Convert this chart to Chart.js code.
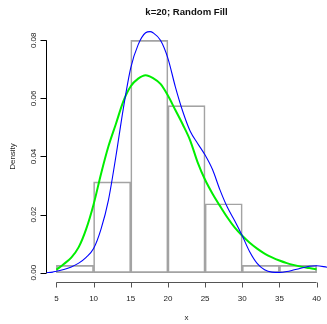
<!DOCTYPE html>
<html>
<head>
<meta charset="utf-8">
<title>k=20; Random Fill</title>
<script src="https://cdn.jsdelivr.net/npm/chart.js@4.4.1/dist/chart.umd.min.js"></script>
<style>
  html, body { margin: 0; padding: 0; background: #fff; }
  #chart { display: block; }
</style>
</head>
<body>
<canvas id="chart" width="327" height="324"></canvas>
<script>
// Histogram bins (width 5) and their densities
const binMids = [7.5, 12.5, 17.5, 22.5, 27.5, 32.5, 37.5];
const binDensity = [0.0025, 0.03125, 0.08, 0.0575, 0.02375, 0.0025, 0.0025];

// Blue density curve (kernel estimate)
const blueX = [3.6, 4.5, 5, 6, 7, 8, 9, 10, 11, 12, 13, 14, 15, 16, 17, 17.6, 18, 19, 20, 21, 22, 23, 24, 25, 26, 27, 28, 29, 30, 31, 32, 33, 34, 35, 36, 37, 38, 39, 40, 41.4];
const blueY = [0.0000, 0.0002, 0.0005, 0.0011, 0.0020, 0.0033, 0.0053, 0.0083, 0.0150, 0.0250, 0.0400, 0.0565, 0.0705, 0.0785, 0.0826, 0.0830, 0.0826, 0.0800, 0.0738, 0.0640, 0.0555, 0.0487, 0.0445, 0.0405, 0.0355, 0.0285, 0.0225, 0.0178, 0.0127, 0.0072, 0.0032, 0.0010, 0.0002, 0.0001, 0.0004, 0.0010, 0.0016, 0.0022, 0.0024, 0.0019];

// Green fitted curve, only over 5..40
const greenX = [5, 6, 7, 8, 9, 10, 11, 12, 13, 14, 15, 16, 17, 18, 19, 20, 21, 22, 23, 24, 25, 26, 27, 28, 29, 30, 31, 32, 33, 34, 35, 36, 37, 38, 39, 40];
const greenY = [0.0010, 0.0030, 0.0052, 0.0088, 0.0150, 0.0235, 0.0340, 0.0435, 0.0512, 0.0590, 0.0642, 0.0668, 0.0680, 0.0670, 0.0650, 0.0610, 0.0560, 0.0510, 0.0455, 0.0380, 0.0320, 0.0272, 0.0230, 0.0190, 0.0155, 0.0127, 0.0103, 0.0083, 0.0066, 0.0053, 0.0042, 0.0033, 0.0026, 0.0020, 0.0016, 0.0012];

// Axis ticks
const xTicks = [5, 10, 15, 20, 25, 30, 35, 40];
const yTicks = [0, 0.02, 0.04, 0.06, 0.08];
const yTickLabels = ['0.00', '0.02', '0.04', '0.06', '0.08'];

const titleText = 'k=20; Random Fill';
const xLabel = 'x';
const yLabel = 'Density';

const FONT = "'Liberation Sans', Arial, sans-serif";

// R-style axes, labels and title drawn from the chart's own scales
const rAxes = {
    id: 'rAxes',
    afterDraw(chart) {
        const ctx = chart.ctx;
        const xs = chart.scales.x;
        const ys = chart.scales.y;
        const area = chart.chartArea;
        ctx.save();

        // y axis
        const ax = Math.round(area.left) + 0.5;
        ctx.strokeStyle = '#000';
        ctx.lineWidth = 1;
        ctx.beginPath();
        ctx.moveTo(ax, ys.getPixelForValue(yTicks[0]));
        ctx.lineTo(ax, ys.getPixelForValue(yTicks[yTicks.length - 1]));
        yTicks.forEach(v => {
            const py = Math.round(ys.getPixelForValue(v)) + 0.5;
            ctx.moveTo(ax, py);
            ctx.lineTo(ax - 6, py);
        });
        ctx.stroke();

        ctx.fillStyle = '#222';
        ctx.font = '8px ' + FONT;
        ctx.textAlign = 'center';
        ctx.textBaseline = 'middle';
        yTicks.forEach((v, i) => {
            ctx.save();
            ctx.translate(ax - 13, ys.getPixelForValue(v));
            ctx.rotate(-Math.PI / 2);
            ctx.fillText(yTickLabels[i], 0, 0);
            ctx.restore();
        });

        // x axis
        const ay = Math.round(area.bottom) + 0.5;
        ctx.strokeStyle = '#555';
        ctx.beginPath();
        ctx.moveTo(xs.getPixelForValue(xTicks[0]), ay);
        ctx.lineTo(xs.getPixelForValue(xTicks[xTicks.length - 1]), ay);
        xTicks.forEach(v => {
            const px = Math.round(xs.getPixelForValue(v)) + 0.5;
            ctx.moveTo(px, ay);
            ctx.lineTo(px, ay + 5);
        });
        ctx.stroke();

        xTicks.forEach(v => {
            ctx.fillText(String(v), xs.getPixelForValue(v), ay + 16);
        });

        // axis titles
        const cx = (area.left + area.right) / 2;
        const cy = (area.top + area.bottom) / 2;
        ctx.fillText(xLabel, cx, 318);
        ctx.save();
        ctx.translate(13, cy);
        ctx.rotate(-Math.PI / 2);
        ctx.fillText(yLabel, 0, 0);
        ctx.restore();

        // main title
        ctx.fillStyle = '#111';
        ctx.font = 'bold 9.6px ' + FONT;
        ctx.fillText(titleText, cx, 12);

        ctx.restore();
    }
};

new Chart(document.getElementById('chart'), {
    type: 'bar',
    data: {
        datasets: [
            {
                type: 'line',
                data: blueX.map((x, i) => ({ x: x, y: blueY[i] })),
                borderColor: '#0000ff',
                borderWidth: 1.1,
                pointRadius: 0,
                cubicInterpolationMode: 'monotone',
                fill: false,
                order: 1
            },
            {
                type: 'line',
                data: greenX.map((x, i) => ({ x: x, y: greenY[i] })),
                borderColor: '#00ee00',
                borderWidth: 2,
                pointRadius: 0,
                cubicInterpolationMode: 'monotone',
                fill: false,
                order: 2
            },
            {
                type: 'bar',
                data: binMids.map((x, i) => ({ x: x, y: binDensity[i] })),
                backgroundColor: 'rgba(0,0,0,0)',
                borderColor: '#a3a3a3',
                borderWidth: 1,
                borderSkipped: false,
                barPercentage: 1,
                categoryPercentage: 1,
                grouped: false,
                order: 3
            }
        ]
    },
    options: {
        responsive: false,
        animation: false,
        devicePixelRatio: 1,
        layout: { padding: { left: 46, top: 31, right: 0, bottom: 42 } },
        plugins: {
            legend: { display: false },
            tooltip: { enabled: false },
            title: { display: false }
        },
        scales: {
            x: { type: 'linear', min: 3.6, max: 41.4, offset: false, display: false },
            y: { type: 'linear', min: -0.0032, max: 0.0832, display: false }
        }
    },
    plugins: [rAxes]
});
</script>
</body>
</html>
